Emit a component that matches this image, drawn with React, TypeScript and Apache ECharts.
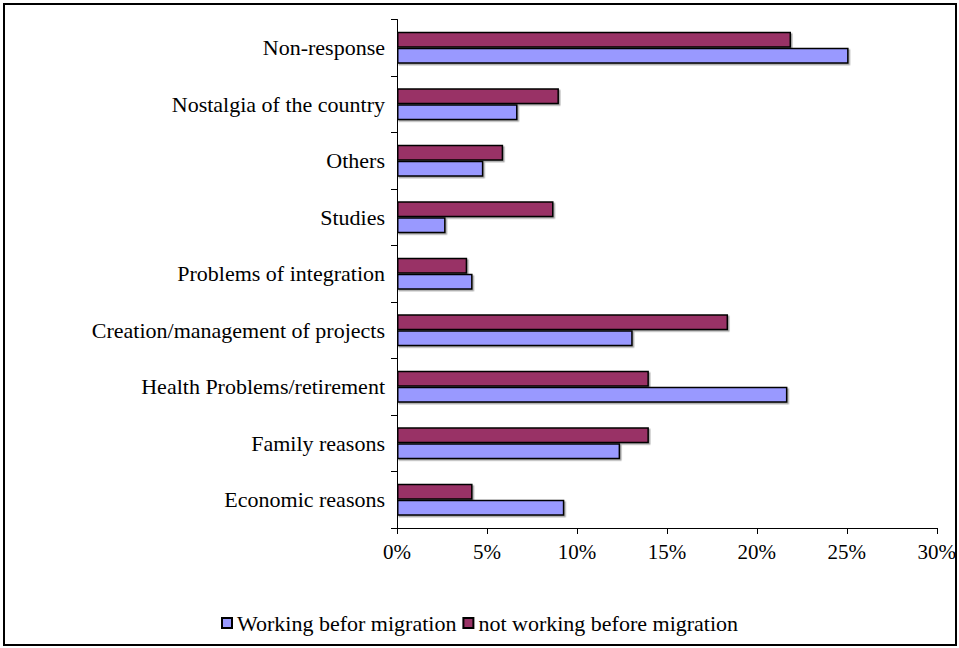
import React, { useEffect, useRef } from "react";
import * as echarts from "echarts";

const categories = [
  "Economic reasons",
  "Family reasons",
  "Health Problems/retirement",
  "Creation/management of projects",
  "Problems of integration",
  "Studies",
  "Others",
  "Nostalgia of the country",
  "Non-response",
];
const workingBefore = [9.3, 12.4, 21.7, 13.1, 4.2, 2.7, 4.8, 6.7, 25.1];
const notWorkingBefore = [4.2, 14.0, 14.0, 18.4, 3.9, 8.7, 5.9, 9.0, 21.9];
const seriesNames = ["Working befor migration", "not working before migration"];

const FONT = "Liberation Serif";

export default function App() {
  const ref = useRef<HTMLDivElement>(null);
  useEffect(() => {
    if (!ref.current) return;
    const chart = echarts.init(ref.current, null, { renderer: "svg" });
    const barStyle = (color: string) => ({
      color,
      borderColor: "#000",
      borderWidth: 1.5,
      shadowColor: "rgba(0,0,0,0.35)",
      shadowOffsetX: 1.5,
      shadowOffsetY: 1.5,
      shadowBlur: 0,
    });
    chart.setOption({
      animation: false,
      backgroundColor: "#fff",
      textStyle: { fontFamily: FONT, color: "#000" },
      graphic: [
        {
          type: "rect",
          shape: { x: 4, y: 4, width: 952, height: 641 },
          style: { fill: "none", stroke: "#000", lineWidth: 2 },
          silent: true,
        },
      ],
      grid: { left: 397, right: 22, top: 19.5, bottom: 120, containLabel: false },
      xAxis: {
        type: "value",
        min: 0,
        max: 30,
        interval: 5,
        axisLine: { show: true, lineStyle: { color: "#000", width: 1 } },
        axisTick: { show: true, length: 6, lineStyle: { color: "#000" } },
        splitLine: { show: false },
        axisLabel: {
          formatter: "{value}%",
          fontFamily: FONT,
          fontSize: 21,
          color: "#000",
          margin: 13,
        },
      },
      yAxis: {
        type: "category",
        data: categories,
        axisLine: { show: true, lineStyle: { color: "#000", width: 1 } },
        axisTick: { show: true, length: 6, lineStyle: { color: "#000" } },
        axisLabel: { fontFamily: FONT, fontSize: 22, color: "#000", margin: 12 },
      },
      legend: {
        top: 607,
        left: 216,
        itemWidth: 10,
        itemHeight: 10,
        itemGap: 6,
        icon: "rect",
        textStyle: { fontFamily: FONT, fontSize: 22, color: "#000" },
        data: seriesNames,
      },
      series: [
        {
          name: seriesNames[1],
          type: "bar",
          data: notWorkingBefore,
          barWidth: 16,
          barGap: "0%",
          itemStyle: barStyle("#993366"),
        },
        {
          name: seriesNames[0],
          type: "bar",
          data: workingBefore,
          barWidth: 16,
          barGap: "0%",
          itemStyle: barStyle("#9999FF"),
        },
      ],
    });
    return () => chart.dispose();
  }, []);
  return (
    <div
      ref={ref}
      style={{ position: "fixed", left: 0, top: 0, width: 959, height: 648 }}
    />
  );
}
